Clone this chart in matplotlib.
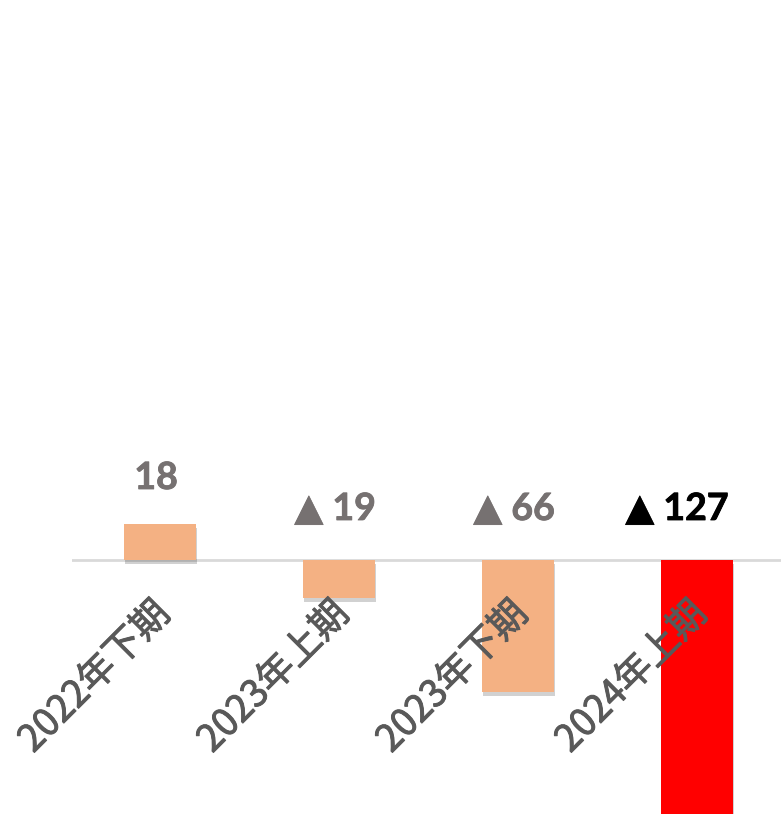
import matplotlib
matplotlib.use("Agg")
import matplotlib.pyplot as plt
import matplotlib.patheffects as pe

periods = ["2022年下期", "2023年上期", "2023年下期", "2024年上期"]
values = [18, -19, -66, -127]
value_labels = ["18", "▲ 19", "▲ 66", "▲ 127"]
bar_colors = ["#F4B183", "#F4B183", "#F4B183", "#FF0000"]
label_colors = ["#767171", "#767171", "#767171", "#000000"]

fig = plt.figure(figsize=(7.81, 8.14), dpi=100)
ax = fig.add_axes([72 / 781, 0.0, 709 / 781, 1.0])
ax.set_xlim(-0.49, -0.49 + 709 / 179)
ax.set_ylim(-127, 280)
ax.axis("off")

shadow = [pe.SimplePatchShadow(offset=(1, -3), shadow_rgbFace="#000000", alpha=0.18),
          pe.Normal()]
xs = range(len(values))
bars = ax.bar(xs, values, width=0.4, color=bar_colors, zorder=3)
for b in bars:
    b.set_path_effects(shadow)

ax.axhline(0, color="#D9D9D9", lw=2, zorder=2)

# value labels sit above the zero line (or above the bar when positive)
for x, v, lab, c in zip(xs, values, value_labels, label_colors):
    y = v + 14.5 if v > 0 else 17
    dx = -0.11 if c == "#000000" else -0.02
    ax.text(x + dx, y, lab, ha="center", va="bottom", fontsize=27,
            fontweight=700, color=c, family=["Lato", "DejaVu Sans"], zorder=4,
            path_effects=[pe.withStroke(linewidth=0.6, foreground=c)])

# category names, slanted, with a slightly heavier stroke than regular
thick = [pe.withStroke(linewidth=0.7, foreground="#595959")]
for x, p in zip(xs, periods):
    ax.text(x + 0.025, -24, p, rotation=45, rotation_mode="anchor",
            ha="right", va="center", fontsize=27, color="#595959",
            family=["Noto Sans CJK SC", "DejaVu Sans"], zorder=5,
            path_effects=thick)

fig.savefig("out.png", dpi=100)
